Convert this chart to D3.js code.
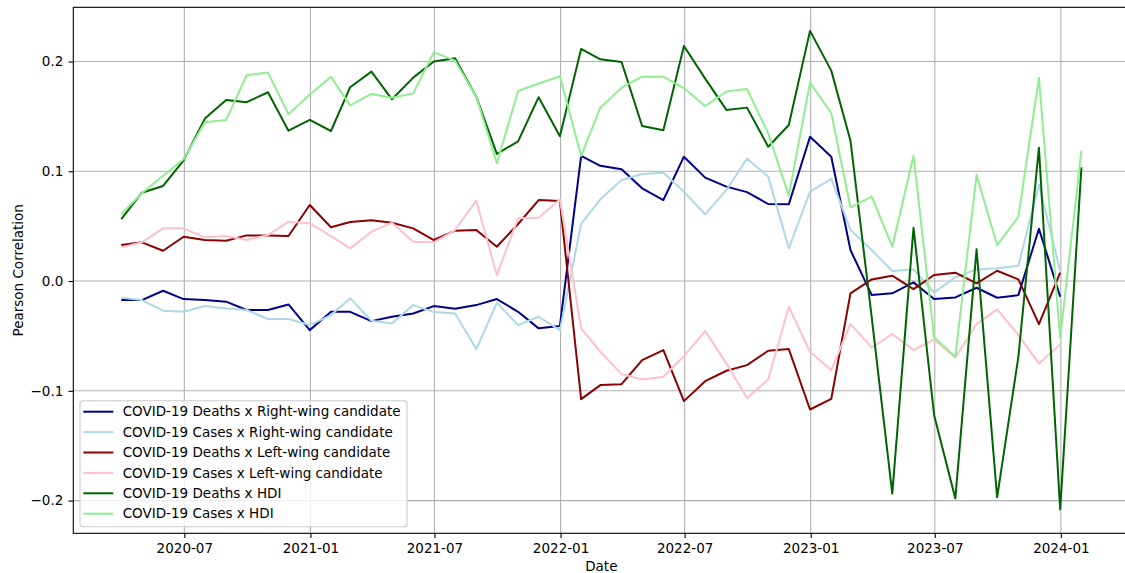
<!DOCTYPE html>
<html>
<head>
<meta charset="utf-8">
<script src="https://cdn.jsdelivr.net/npm/d3@7/dist/d3.min.js"></script>
<style>
html, body { margin: 0; padding: 0; background: #fff; }
svg { display: block; font-family: "DejaVu Sans", sans-serif; }
</style>
</head>
<body>
<svg id="chart" width="1125" height="573"></svg>
<script>
const dates = [
  "2020-03-31","2020-04-30","2020-05-31","2020-06-30","2020-07-31","2020-08-31","2020-09-30","2020-10-31","2020-11-30","2020-12-31",
  "2021-01-31","2021-02-28","2021-03-31","2021-04-30","2021-05-31","2021-06-30","2021-07-31","2021-08-31","2021-09-30","2021-10-31",
  "2021-11-30","2021-12-31","2022-01-31","2022-02-28","2022-03-31","2022-04-30","2022-05-31","2022-06-30","2022-07-31","2022-08-31",
  "2022-09-30","2022-10-31","2022-11-30","2022-12-31","2023-01-31","2023-02-28","2023-03-31","2023-04-30","2023-05-31","2023-06-30",
  "2023-07-31","2023-08-31","2023-09-30","2023-10-31","2023-11-30","2023-12-31","2024-01-31"
];

const deathsRight = [
  -0.0173, -0.0173, -0.0088, -0.0164, -0.0173, -0.0188, -0.0264, -0.0264, -0.0213, -0.0447,
  -0.0280, -0.0280, -0.0365, -0.0325, -0.0295, -0.0228, -0.0252, -0.0219, -0.0164, -0.0280,
  -0.0431, -0.0410, 0.1140, 0.1050, 0.1018, 0.0845, 0.0738, 0.1133, 0.0942, 0.0860,
  0.0810, 0.0702, 0.0699, 0.1315, 0.1133, 0.0283, -0.0128, -0.0112, -0.0012, -0.0164,
  -0.0149, -0.0061, -0.0152, -0.0128, 0.0477, -0.0143
];
const casesRight = [
  -0.0152, -0.0173, -0.0270, -0.0280, -0.0228, -0.0249, -0.0264, -0.0346, -0.0346, -0.0401,
  -0.0310, -0.0158, -0.0362, -0.0386, -0.0219, -0.0283, -0.0295, -0.0620, -0.0198, -0.0401,
  -0.0325, -0.0447, 0.0520, 0.0745, 0.0920, 0.0975, 0.0987, 0.0814, 0.0608, 0.0830,
  0.1115, 0.0950, 0.0298, 0.0814, 0.0930, 0.0465, 0.0283, 0.0091, 0.0106, -0.0103,
  0.0033, 0.0106, 0.0116, 0.0140, 0.0880, 0.0094
];
const deathsLeft = [
  0.0328, 0.0353, 0.0276, 0.0404, 0.0374, 0.0367, 0.0416, 0.0416, 0.0410, 0.0693,
  0.0490, 0.0538, 0.0553, 0.0532, 0.0480, 0.0374, 0.0459, 0.0465, 0.0313, 0.0520,
  0.0738, 0.0729, -0.1076, -0.0948, -0.0939, -0.0720, -0.0629, -0.1094, -0.0912, -0.0817,
  -0.0766, -0.0635, -0.0620, -0.1170, -0.1073, -0.0112, 0.0015, 0.0049, -0.0073, 0.0055,
  0.0076, -0.0021, 0.0094, 0.0015, -0.0392, 0.0076
];
const casesLeft = [
  0.0307, 0.0353, 0.0480, 0.0480, 0.0398, 0.0410, 0.0374, 0.0419, 0.0541, 0.0526,
  0.0410, 0.0298, 0.0450, 0.0532, 0.0358, 0.0353, 0.0465, 0.0732, 0.0055, 0.0572,
  0.0577, 0.0745, -0.0431, -0.0644, -0.0848, -0.0896, -0.0872, -0.0684, -0.0456, -0.0750,
  -0.1065, -0.0896, -0.0234, -0.0644, -0.0811, -0.0392, -0.0604, -0.0483, -0.0629, -0.0532,
  -0.0696, -0.0392, -0.0258, -0.0492, -0.0750, -0.0577
];
const deathsHDI = [
  0.0565, 0.0805, 0.0866, 0.1100, 0.1480, 0.1650, 0.1630, 0.1720, 0.1370, 0.1468,
  0.1367, 0.1766, 0.1908, 0.1656, 0.1853, 0.2000, 0.2030, 0.1680, 0.1158, 0.1273,
  0.1675, 0.1320, 0.2115, 0.2020, 0.1996, 0.1413, 0.1374, 0.2142, 0.1844, 0.1559,
  0.1580, 0.1224, 0.1422, 0.2279, 0.1917, 0.1279, -0.0330, -0.1936, 0.0486, -0.1220,
  -0.1980, 0.0289, -0.1970, -0.0690, 0.1215, -0.2080, 0.1036
];
const casesHDI = [
  0.0608, 0.0800, 0.0960, 0.1110, 0.1447, 0.1468, 0.1875, 0.1900, 0.1520, 0.1700,
  0.1860, 0.1600, 0.1705, 0.1670, 0.1710, 0.2085, 0.2008, 0.1680, 0.1073, 0.1732,
  0.1800, 0.1866, 0.1140, 0.1580, 0.1762, 0.1862, 0.1862, 0.1756, 0.1595, 0.1726,
  0.1750, 0.1346, 0.0778, 0.1808, 0.1529, 0.0672, 0.0769, 0.0313, 0.1142, -0.0513,
  -0.0690, 0.0966, 0.0328, 0.0586, 0.1853, -0.0517, 0.1188
];

const seriesNames = [
  "COVID-19 Deaths x Right-wing candidate",
  "COVID-19 Cases x Right-wing candidate",
  "COVID-19 Deaths x Left-wing candidate",
  "COVID-19 Cases x Left-wing candidate",
  "COVID-19 Deaths x HDI",
  "COVID-19 Cases x HDI"
];
const seriesColors = ["#00008b", "#add8e6", "#8b0000", "#ffc0cb", "#006400", "#90ee90"];
const seriesValues = [deathsRight, casesRight, deathsLeft, casesLeft, deathsHDI, casesHDI];

const yTicks = [-0.2, -0.1, 0.0, 0.1, 0.2];
const xTicks = ["2020-07-01","2021-01-01","2021-07-01","2022-01-01","2022-07-01","2023-01-01","2023-07-01","2024-01-01"];

(function () {
const parse = d3.utcParse("%Y-%m-%d");
const svg = d3.select("#chart");
const FS = 13.5;

const pL = 73.3, pR = 1129.4, pT = 7.3, pB = 533.3;
const x = d3.scaleUtc()
  .domain([parse("2020-01-21"), parse("2024-04-10")])
  .range([pL, pR]);
const y = d3.scaleLinear()
  .domain([-0.2298, 0.2494])
  .range([pB, pT]);

// grid
const grid = svg.append("g");
grid.selectAll("line.gx").data(xTicks).join("line")
  .attr("x1", d => x(parse(d))).attr("x2", d => x(parse(d)))
  .attr("y1", pT).attr("y2", pB)
  .attr("stroke", "#b0b0b0").attr("stroke-width", 1.1);
grid.selectAll("line.gy").data(yTicks).join("line")
  .attr("x1", pL).attr("x2", pR)
  .attr("y1", d => y(d)).attr("y2", d => y(d))
  .attr("stroke", "#b0b0b0").attr("stroke-width", 1.1);

// lines
const line = d3.line()
  .x((d, i) => x(parse(dates[i])))
  .y(d => y(d));
seriesValues.forEach((vals, k) => {
  svg.append("path")
    .datum(vals)
    .attr("fill", "none")
    .attr("stroke", seriesColors[k])
    .attr("stroke-width", 2)
    .attr("stroke-linejoin", "round")
    .attr("d", line);
});

// axes
const xAxis = d3.axisBottom(x)
  .tickValues(xTicks.map(parse))
  .tickFormat(d3.utcFormat("%Y-%m"))
  .tickSize(4.8).tickPadding(4.8);
const gx = svg.append("g").attr("transform", `translate(0,${pB})`).call(xAxis);
gx.select(".domain").remove();
gx.selectAll("line").attr("stroke", "#000").attr("stroke-width", 1.1);
gx.selectAll("text").attr("font-size", FS).attr("fill", "#000").attr("font-family", "DejaVu Sans").attr("dy", "0.78em");

const fmtY = d => d3.format(".1f")(d).replace("-", "\u2212");
const yAxis = d3.axisLeft(y)
  .tickValues(yTicks)
  .tickFormat(fmtY)
  .tickSize(4.8).tickPadding(5.2);
const gy = svg.append("g").attr("transform", `translate(${pL},0)`).call(yAxis);
gy.select(".domain").remove();
gy.selectAll("line").attr("stroke", "#000").attr("stroke-width", 1.1);
gy.selectAll("text").attr("font-size", FS).attr("fill", "#000").attr("font-family", "DejaVu Sans");

// spines
svg.append("rect")
  .attr("x", pL).attr("y", pT)
  .attr("width", pR - pL).attr("height", pB - pT)
  .attr("fill", "none").attr("stroke", "#000").attr("stroke-width", 1.1);

// axis labels
svg.append("text")
  .attr("x", (pL + pR) / 2).attr("y", 571)
  .attr("text-anchor", "middle")
  .attr("font-size", FS).attr("fill", "#000")
  .text("Date");
svg.append("text")
  .attr("transform", `translate(22.5,${(pT + pB) / 2}) rotate(-90)`)
  .attr("text-anchor", "middle")
  .attr("font-size", FS).attr("fill", "#000")
  .text("Pearson Correlation");

// legend
const lg = svg.append("g").attr("transform", "translate(80,400.7)");
lg.append("rect")
  .attr("x", 0).attr("y", 0).attr("width", 327).attr("height", 126)
  .attr("rx", 3).attr("ry", 3)
  .attr("fill", "#fff").attr("fill-opacity", 0.8)
  .attr("stroke", "#cccccc").attr("stroke-width", 1.1);
seriesNames.forEach((name, k) => {
  const yy = 11 + k * 20.4;
  lg.append("line")
    .attr("x1", 3.3).attr("x2", 33.3)
    .attr("y1", yy).attr("y2", yy)
    .attr("stroke", seriesColors[k]).attr("stroke-width", 2);
  lg.append("text")
    .attr("x", 42.7).attr("y", yy)
    .attr("dy", "0.35em")
    .attr("font-size", FS).attr("fill", "#000")
    .text(name);
});
})();
</script>
</body>
</html>
